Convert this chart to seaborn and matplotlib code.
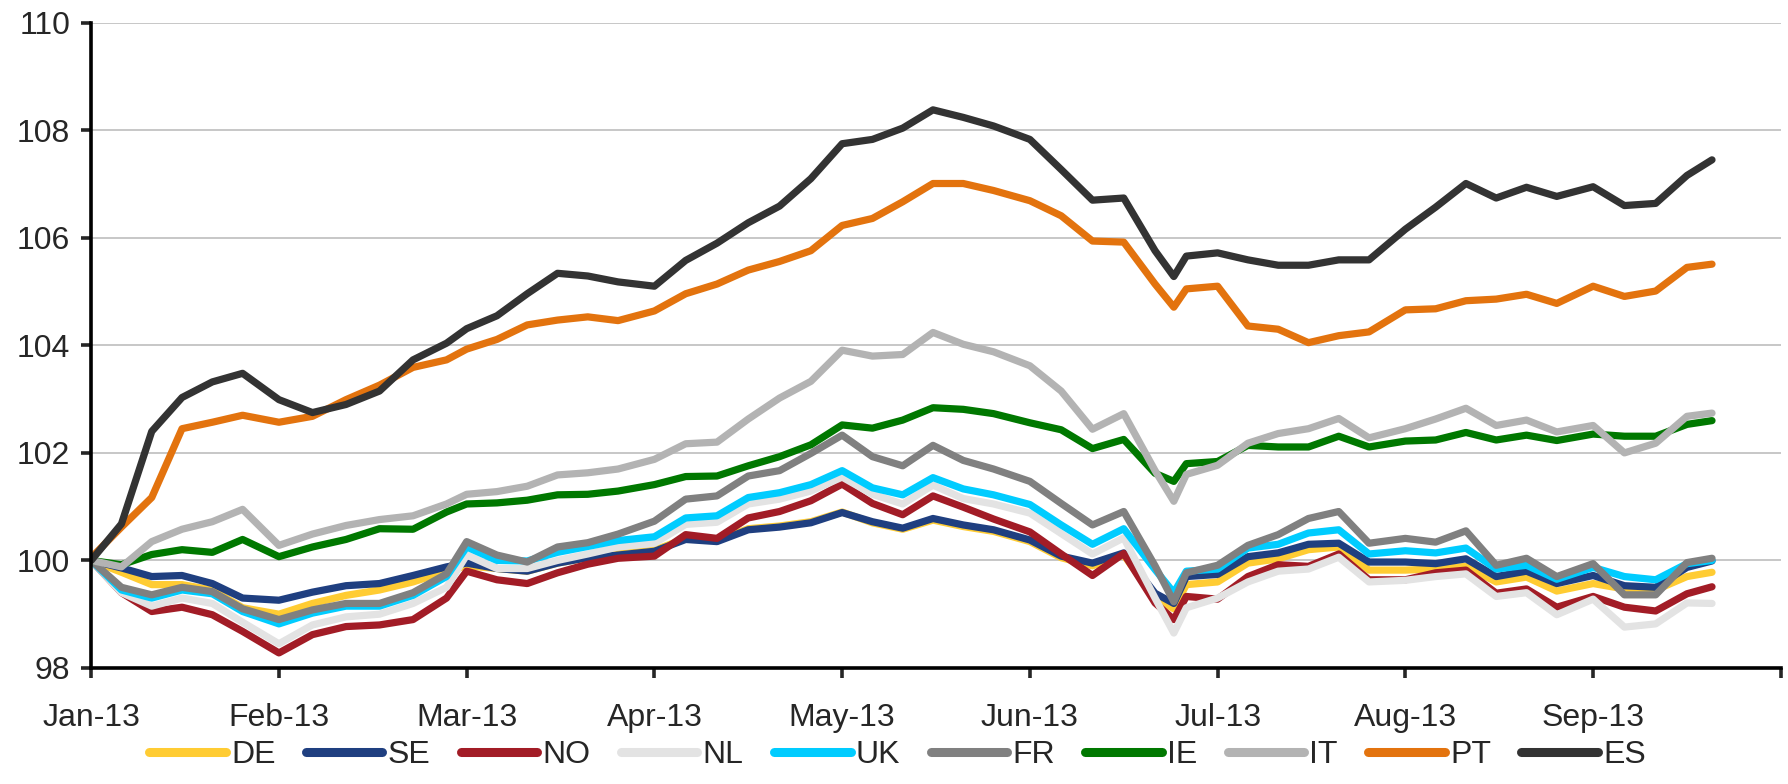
import pandas as pd
import matplotlib.pyplot as plt
import seaborn as sns

#Snapshot dates (roughly every 5 days)
dates = ["2013-01-01", "2013-01-06", "2013-01-11", "2013-01-16", "2013-01-21", "2013-01-26",
         "2013-02-01", "2013-02-06", "2013-02-11", "2013-02-16", "2013-02-21", "2013-02-26",
         "2013-03-01", "2013-03-06", "2013-03-11", "2013-03-16", "2013-03-21", "2013-03-26",
         "2013-04-01", "2013-04-06", "2013-04-11", "2013-04-16", "2013-04-21", "2013-04-26",
         "2013-05-01", "2013-05-06", "2013-05-11", "2013-05-16", "2013-05-21", "2013-05-26",
         "2013-06-01", "2013-06-06", "2013-06-11", "2013-06-16", "2013-06-21", "2013-06-24", "2013-06-26",
         "2013-07-01", "2013-07-06", "2013-07-11", "2013-07-16", "2013-07-21", "2013-07-26",
         "2013-08-01", "2013-08-06", "2013-08-11", "2013-08-16", "2013-08-21", "2013-08-26",
         "2013-09-01", "2013-09-06", "2013-09-11", "2013-09-16", "2013-09-20"]

de = [100.0, 99.78, 99.55, 99.55, 99.45, 99.12,
      99.0, 99.2, 99.35, 99.45, 99.6, 99.8,
      99.9, 99.85, 99.8, 99.95, 100.05, 100.12,
      100.19, 100.41, 100.37, 100.59, 100.64, 100.72,
      100.9, 100.7, 100.58, 100.75, 100.63, 100.54,
      100.35, 100.05, 99.9, 100.1, 99.3, 99.1, 99.55,
      99.6, 99.95, 100.03, 100.2, 100.25, 99.82,
      99.82, 99.84, 99.89, 99.6, 99.69, 99.43,
      99.57, 99.47, 99.45, 99.7, 99.78]
se = [100.0, 99.86, 99.7, 99.72, 99.57, 99.3,
      99.26, 99.41, 99.53, 99.57, 99.72, 99.88,
      99.95, 99.85, 99.8, 99.95, 100.05, 100.1,
      100.17, 100.39, 100.35, 100.57, 100.62, 100.7,
      100.89, 100.72, 100.6, 100.78, 100.66, 100.57,
      100.38, 100.08, 99.95, 100.14, 99.39, 99.2, 99.7,
      99.74, 100.07, 100.14, 100.3, 100.32, 99.97,
      99.97, 99.94, 100.03, 99.7, 99.8, 99.57,
      99.72, 99.53, 99.5, 99.87, 99.99]
no = [100.0, 99.4, 99.05, 99.13, 98.99, 98.68,
      98.28, 98.62, 98.77, 98.8, 98.9, 99.3,
      99.8, 99.64, 99.57, 99.77, 99.93, 100.04,
      100.08, 100.48, 100.41, 100.79, 100.91, 101.11,
      101.42, 101.06, 100.85, 101.2, 100.99, 100.77,
      100.53, 100.12, 99.72, 100.13, 99.21, 98.9, 99.33,
      99.28, 99.7, 99.92, 99.89, 100.12, 99.64,
      99.64, 99.77, 99.82, 99.39, 99.47, 99.13,
      99.33, 99.13, 99.06, 99.38, 99.51]
nl = [100.0, 99.4, 99.15, 99.3, 99.2, 98.85,
      98.45, 98.8, 98.95, 99.0, 99.2, 99.5,
      100.1, 99.85, 99.85, 100.0, 100.12, 100.25,
      100.32, 100.67, 100.71, 101.05, 101.14, 101.29,
      101.55, 101.23, 101.05, 101.4, 101.15, 101.05,
      100.88, 100.5, 100.12, 100.42, 99.3, 98.65, 99.12,
      99.3, 99.6, 99.8, 99.84, 100.06, 99.6,
      99.63, 99.7, 99.75, 99.33, 99.4, 98.99,
      99.28, 98.76, 98.82, 99.21, 99.2]
uk = [100.0, 99.45, 99.3, 99.45, 99.38, 99.05,
      98.82, 99.02, 99.15, 99.15, 99.35, 99.7,
      100.25, 100.0, 99.99, 100.15, 100.26, 100.37,
      100.44, 100.79, 100.83, 101.17, 101.26, 101.41,
      101.67, 101.35, 101.22, 101.54, 101.33, 101.22,
      101.04, 100.66, 100.3, 100.59, 99.83, 99.4, 99.8,
      99.84, 100.23, 100.3, 100.51, 100.57, 100.12,
      100.18, 100.14, 100.23, 99.84, 99.91, 99.65,
      99.87, 99.7, 99.64, 99.94, 100.0]
fr = [100.0, 99.5, 99.36, 99.5, 99.42, 99.1,
      98.9, 99.08, 99.2, 99.2, 99.4, 99.75,
      100.35, 100.1, 99.97, 100.25, 100.33, 100.49,
      100.73, 101.14, 101.2, 101.57, 101.67, 101.99,
      102.33, 101.93, 101.76, 102.14, 101.86, 101.7,
      101.47, 101.06, 100.66, 100.91, 99.9, 99.23, 99.77,
      99.91, 100.28, 100.48, 100.78, 100.91, 100.32,
      100.41, 100.34, 100.55, 99.91, 100.04, 99.7,
      99.94, 99.36, 99.36, 99.96, 100.04]
ie = [100.0, 99.92, 100.11, 100.2, 100.15, 100.39,
      100.07, 100.25, 100.39, 100.59, 100.58, 100.9,
      101.05, 101.07, 101.12, 101.22, 101.23, 101.29,
      101.41, 101.56, 101.57, 101.76, 101.93, 102.15,
      102.52, 102.46, 102.61, 102.84, 102.81, 102.73,
      102.56, 102.43, 102.08, 102.25, 101.62, 101.47, 101.8,
      101.84, 102.14, 102.11, 102.11, 102.31, 102.11,
      102.22, 102.24, 102.38, 102.24, 102.33, 102.23,
      102.35, 102.31, 102.31, 102.53, 102.6]
it = [100.0, 99.88, 100.35, 100.58, 100.72, 100.95,
      100.28, 100.49, 100.65, 100.76, 100.83, 101.05,
      101.23, 101.28, 101.38, 101.59, 101.63, 101.7,
      101.88, 102.17, 102.2, 102.63, 103.02, 103.33,
      103.91, 103.8, 103.83, 104.24, 104.02, 103.88,
      103.62, 103.15, 102.44, 102.73, 101.67, 101.1, 101.6,
      101.77, 102.18, 102.36, 102.45, 102.64, 102.28,
      102.45, 102.63, 102.83, 102.51, 102.61, 102.39,
      102.51, 102.0, 102.18, 102.68, 102.74]
pt = [100.05, 100.62, 101.17, 102.45, 102.57, 102.7,
      102.57, 102.68, 102.99, 103.26, 103.59, 103.73,
      103.93, 104.11, 104.38, 104.47, 104.53, 104.46,
      104.64, 104.96, 105.14, 105.4, 105.56, 105.76,
      106.23, 106.36, 106.67, 107.01, 107.01, 106.88,
      106.69, 106.41, 105.94, 105.92, 105.14, 104.71, 105.05,
      105.1, 104.36, 104.3, 104.05, 104.18, 104.25,
      104.66, 104.68, 104.83, 104.86, 104.95, 104.78,
      105.1, 104.91, 105.01, 105.45, 105.51]
es = [100.0, 100.68, 102.4, 103.03, 103.32, 103.48,
      102.99, 102.75, 102.9, 103.15, 103.73, 104.04,
      104.31, 104.55, 104.96, 105.34, 105.29, 105.18,
      105.1, 105.58, 105.9, 106.28, 106.59, 107.1,
      107.75, 107.83, 108.04, 108.38, 108.24, 108.08,
      107.83, 107.27, 106.7, 106.74, 105.76, 105.28, 105.66,
      105.72, 105.59, 105.49, 105.49, 105.59, 105.59,
      106.16, 106.57, 107.01, 106.74, 106.94, 106.77,
      106.95, 106.6, 106.64, 107.16, 107.45]

countries = ["DE", "SE", "NO", "NL", "UK", "FR", "IE", "IT", "PT", "ES"]
series = [de, se, no, nl, uk, fr, ie, it, pt, es]
colours = ["#FFCC33", "#1F3F80", "#A21C26", "#E3E3E3", "#00CCFF",
           "#808080", "#007800", "#B3B3B3", "#E3730E", "#333333"]

month_labels = ["Jan-13", "Feb-13", "Mar-13", "Apr-13", "May-13",
                "Jun-13", "Jul-13", "Aug-13", "Sep-13", ""]

#Each month gets the same width on the axis (as in the original chart)
def month_pos(d):
    return (d.month - 1) + (d.day - 1) / d.days_in_month

#Build long dataframe for seaborn
ts = pd.to_datetime(pd.Series(dates))
frames = []
for name, vals in zip(countries, series):
    frames.append(pd.DataFrame({"pos": ts.apply(month_pos), "value": vals, "country": name}))
df = pd.concat(frames, ignore_index=True)

sns.set_style("white")
plt.rcParams["font.family"] = ["Liberation Sans", "DejaVu Sans"]

fig = plt.figure(figsize=(17.88, 7.84), dpi=100)
ax = fig.add_axes([0.051, 0.148, 0.945, 0.823])

sns.lineplot(
    data=df,
    x="pos",
    y="value",
    hue="country",
    hue_order=countries,
    palette=dict(zip(countries, colours)),
    linewidth=5.2,
    sort=False,
    estimator=None,
    legend=True,
    ax=ax
)

#Axes formatting
ax.set_xlim(0, 9)
ax.set_ylim(98, 110)
ax.set_xticks(range(10))
ax.set_xticklabels(month_labels)
ax.set_yticks(range(98, 111, 2))
ax.set_xlabel(None)
ax.set_ylabel(None)
ax.grid(True, axis="y", color="#BDBDBD", linewidth=1.2)
ax.set_axisbelow(True)

sns.despine(ax=ax)
for side in ["left", "bottom"]:
    ax.spines[side].set_color("black")
    ax.spines[side].set_linewidth(2.6)
ax.tick_params(axis="y", length=7, width=2.6, pad=8, labelsize=23, left=True)
ax.tick_params(axis="x", length=7, width=2.6, pad=18, labelsize=23, bottom=True)

#Legend under the chart
ax.get_legend().remove()
handles, labels = ax.get_legend_handles_labels()
leg = fig.legend(handles, labels, loc="center", bbox_to_anchor=(0.502, 0.037),
                 ncol=10, frameon=False, fontsize=23, handlelength=2.4,
                 handletextpad=0.16, columnspacing=0.95)
for line in leg.get_lines():
    line.set_linewidth(6.5)

plt.savefig("out.png", dpi=100)
